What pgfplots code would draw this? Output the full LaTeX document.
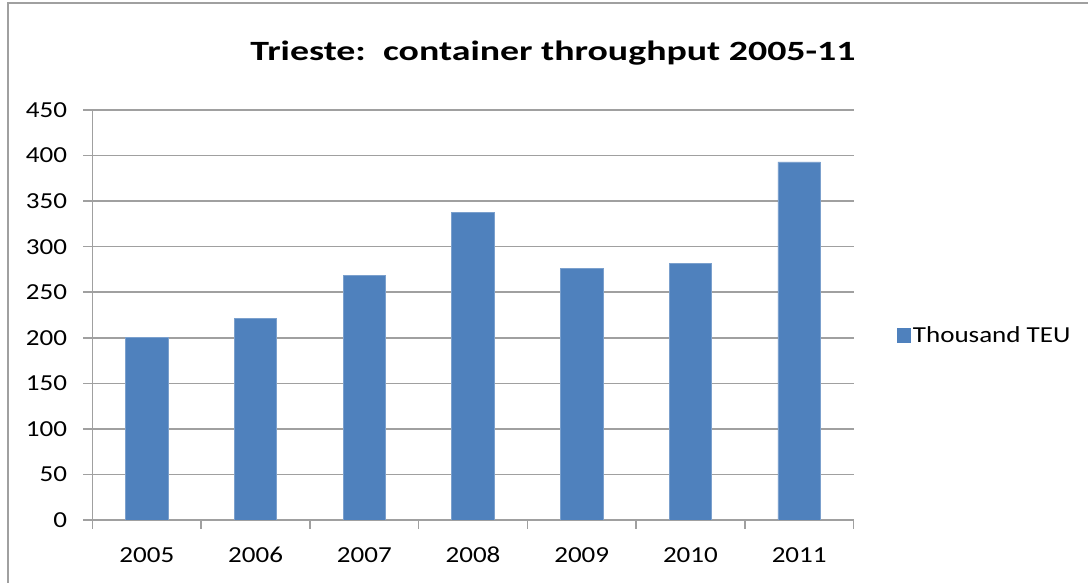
\documentclass[border=0pt]{standalone}
\usepackage{fontspec}
\setmainfont{Carlito}[FakeStretch=1.18, BoldFeatures={FakeStretch=1.18}]
\usepackage{pgfplots}
\pgfplotsset{compat=1.18}
\definecolor{barblue}{RGB}{79,129,189}
\definecolor{gridgray}{RGB}{160,160,160}
\begin{document}
\begin{tikzpicture}[x=1bp,y=1bp]
\path[use as bounding box] (0,0) rectangle (1088,583);
\draw[gridgray, line width=2.5bp] (8,-5) -- (8,580) -- (1095,580);
\node[font=\bfseries\fontsize{28}{32}\selectfont] at (553,530) {\scalebox{1.15}[1]{Trieste:\ \ container throughput 2005-11}};
\begin{axis}[
    at={(92.5bp,63bp)}, anchor=south west,
    scale only axis, width=761bp, height=410bp,
    xmin=-0.5, xmax=6.5, ymin=0, ymax=450,
    ybar, bar width=0.39,
    xtick={0,...,6}, xticklabels={2005,2006,2007,2008,2009,2010,2011},
    major x tick style={draw=none},
    minor xtick={-0.5,0.5,...,6.5},
    ytick={0,50,...,450},
    ymajorgrids, grid style={gridgray, line width=1.5bp},
    axis x line*=bottom, axis y line*=left,
    axis line style={gridgray, line width=1.5bp},
    tick align=outside, tick style={gridgray, line width=1.5bp},
    major tick length=9bp, minor tick length=9bp,
    tick label style={font=\fontsize{23}{27}\selectfont},
    xticklabel style={text height=16bp, text depth=0bp, yshift=-14bp},
    yticklabel style={xshift=-13bp},
    /pgf/number format/assume math mode=true,
    legend style={at={(1.057,0.451)}, anchor=west, draw=none, fill=none,
      inner xsep=0pt, font=\fontsize{23}{27}\selectfont},
    legend image code/.code={\fill[barblue] (0bp,-7bp) rectangle (13bp,7bp);},
]
\addplot[fill=barblue, draw=barblue!75!white, line width=0.8bp] coordinates {
  (0,200) (1,221) (2,268) (3,338) (4,276) (5,282) (6,393)};
\addlegendentry{Thousand TEU}
\end{axis}
\end{tikzpicture}
\end{document}
